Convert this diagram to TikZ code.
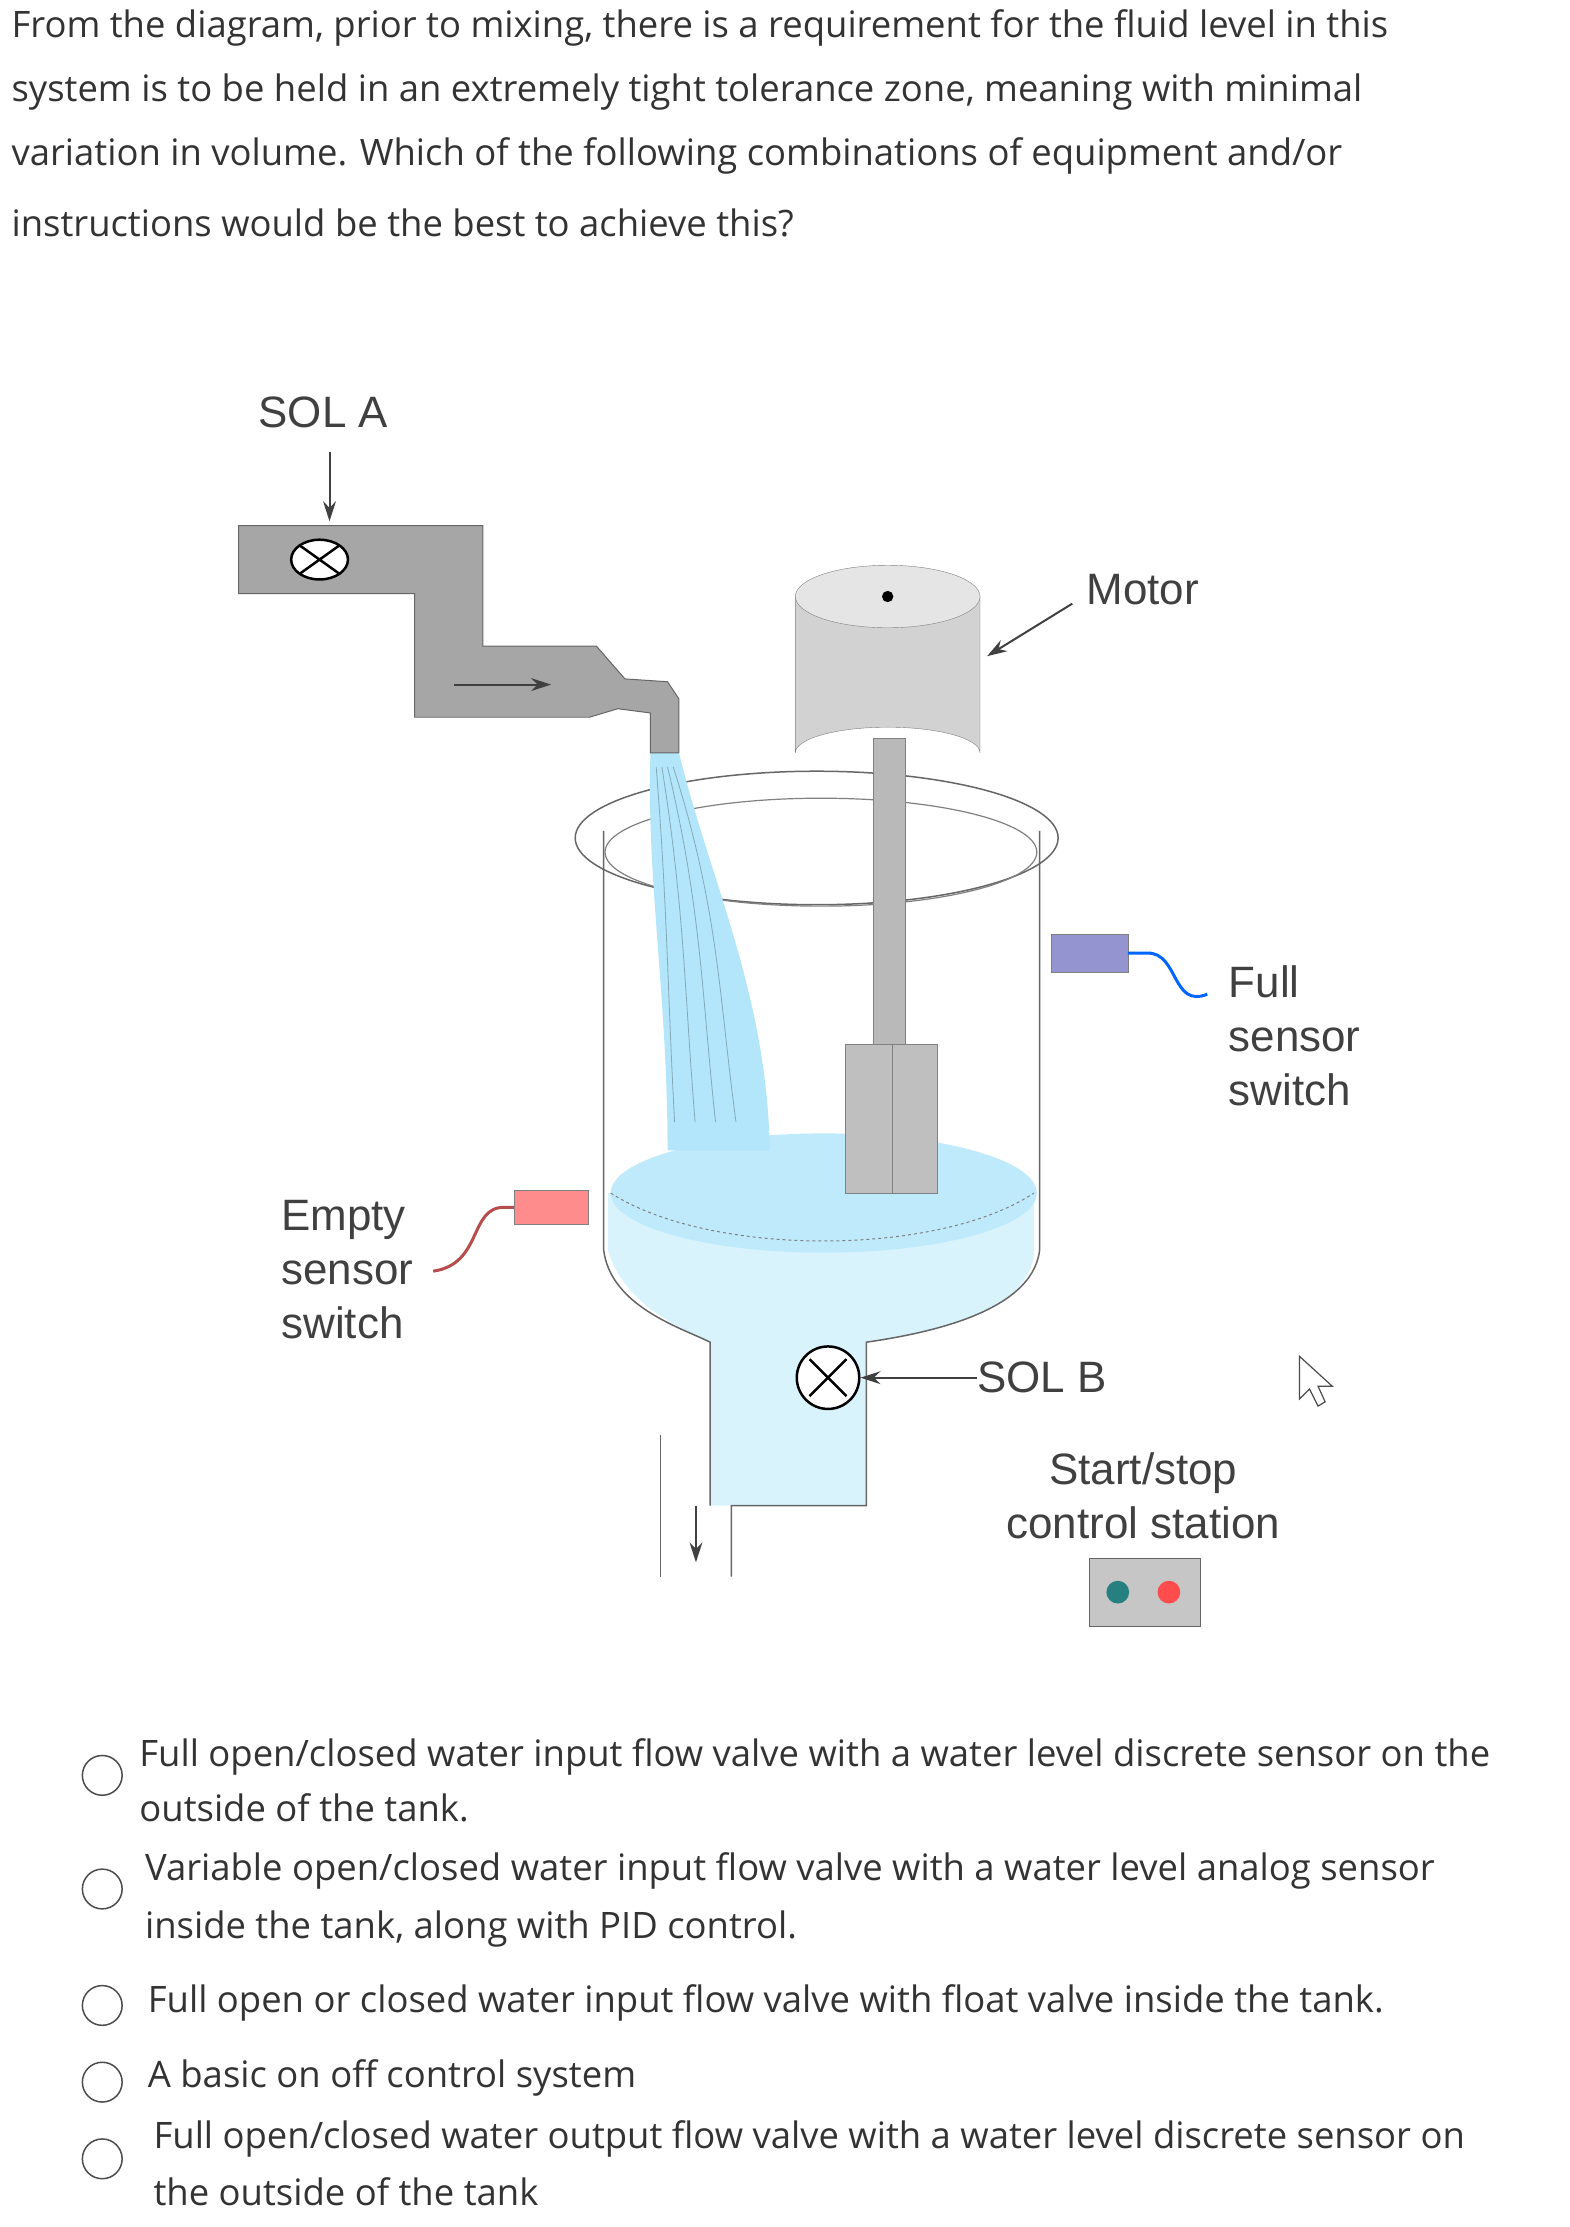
\documentclass[tikz,border=0pt]{standalone}
\usepackage{fontspec}
\usetikzlibrary{shapes.geometric,arrows.meta}
\setmainfont{Open Sans}
\setsansfont{Liberation Sans}
\begin{document}
\begin{tikzpicture}[x=0.05cm,y=-0.05cm,
  q/.style={anchor=west,inner sep=0,font=\fontsize{36.5}{42}\selectfont,text=black!80},
  lab/.style={anchor=west,inner sep=0,font=\sffamily\fontsize{44}{54}\selectfont,text=black!75},
  opt/.style={circle,draw=black!70,line width=1.5pt,minimum size=1.4cm,inner sep=0},
  valve/.style={ellipse,draw=black,line width=2.5pt,fill=white,minimum width=2cm,minimum height=1.4cm,inner sep=0},
  arr/.style={-{Stealth[length=0.7cm,width=0.45cm]},line width=2pt,black!75}]
\fill[white] (0,0) rectangle (1105,1568);
\useasboundingbox (0,0) rectangle (1105,1568);
% question
\node[q] (q1) at (8,20) {From the diagram, prior to mixing, there is a requirement for the fluid level in this};
\node[q] (q2) at (8,65) {system is to be held in an extremely tight tolerance zone, meaning with minimal};
\node[q] (q3) at (8,110) {variation in volume. Which of the following combinations of equipment and/or};
\node[q] (q4) at (8,157) {instructions would be the best to achieve this?};
% liquid in tank
\fill[cyan!15] (428,840) -- (428,880) .. controls (440,920) and (480,935) .. (500,945) -- (500,1060) -- (610,1060) -- (610,945) .. controls (680,935) and (728,915) .. (728,880) -- (728,840) -- cycle;
\fill[cyan!25] (580,840) ellipse [x radius=150, y radius=42];
% tank
\draw[black!60,line width=1.5pt] (425,585) -- (425,880) .. controls (430,920) and (480,935) .. (500,945) -- (500,1060);
\draw[black!60,line width=1.5pt] (732,585) -- (732,880) .. controls (728,915) and (680,935) .. (610,945) -- (610,1060) -- (515,1060) -- (515,1110);
\draw[black!60,line width=1.5pt] (465,1010) -- (465,1110);
\draw[black!60,line width=1.5pt] (575,590) ellipse [x radius=170, y radius=47];
\draw[black!50,line width=1.2pt] (578,600) ellipse [x radius=152, y radius=38];
\draw[black!50,dashed,line width=1pt] (430,840) .. controls (500,885) and (660,885) .. (728,840);
\draw[arr] (490,1060) -- (490,1100);
% stream
\fill[cyan!30] (458,530) -- (478,530) .. controls (500,620) and (540,700) .. (542,810) -- (470,810) .. controls (470,700) and (455,620) .. (458,530) -- cycle;
\foreach \d in {0,12,24,36} \draw[cyan!50!black!60,line width=0.8pt] (462+\d/3,540) .. controls (470+\d,640) and (470+\d,700) .. (475+\d*1.2,790);
% pipe SOL A
\fill[gray!70,draw=black!60,line width=1pt] (168,370) -- (340,370) -- (340,455) -- (420,455) -- (440,478) -- (470,480) -- (478,492) -- (478,530) -- (458,530) -- (458,502) -- (435,499) -- (415,505) -- (292,505) -- (292,418) -- (168,418) -- cycle;
\node[valve] (va) at (225,394) {};
\draw[black,line width=2.5pt] (211,384) -- (239,404) (211,404) -- (239,384);
\node[lab] (sola) at (182,290) {SOL A};
\coordinate (vatop) at (232,367);
\draw[arr] (232,318) -- (vatop);
\draw[arr] (320,482) -- (388,482);
% motor shaft
\fill[gray!55,draw=black!50] (615,520) rectangle (637,740);
% motor
\fill[gray!35,draw=black!50] (560,420) -- (560,530) arc[start angle=180,end angle=360,x radius=65,y radius=18] -- (690,420) -- cycle;
\fill[gray!20,draw=black!50] (625,420) ellipse [x radius=65, y radius=22];
\fill[black] (625,420) circle (4);
\fill[gray!50,draw=black!50] (595,735) -- (660,735) -- (660,840) -- (595,840) -- cycle;
\draw[black!50] (628,735) -- (628,840);
\node[lab] (motor) at (765,415) {Motor};
\coordinate (mt) at (695,462);
\draw[arr] (755,425) -- (mt);
% full sensor
\node[draw=black!50,fill=blue!40!gray!60,minimum width=2.7cm,minimum height=1.35cm,inner sep=0] (fs) at (767,671) {};
\draw[blue!60!cyan,line width=3pt] (fs.east) -- (808,671) .. controls (830,671) and (825,710) .. (850,700);
\node[lab,align=left,anchor=north west] (fst) at (865,680) {Full\\sensor\\switch};
% empty sensor
\node[draw=black!50,fill=red!45,minimum width=2.6cm,minimum height=1.2cm,inner sep=0] (es) at (388,850) {};
\draw[red!60!black!70,line width=3pt] (es.west) -- (355,850) .. controls (330,850) and (340,890) .. (305,895);
\node[lab,align=left,anchor=north west] (est) at (198,845) {Empty\\sensor\\switch};
% SOL B
\node[valve,minimum width=2.2cm,minimum height=2.2cm] (vb) at (583,970) {};
\draw[black,line width=2.5pt] (570,957) -- (596,983) (570,983) -- (596,957);
\node[lab] (solb) at (688,970) {SOL B};
\draw[arr] (solb.west) -- (vb.east);
% control station
\node[lab,align=center,anchor=center] (cs) at (805,1053) {Start/stop\\control station};
\node[draw=black!60,fill=gray!45,minimum width=3.9cm,minimum height=2.4cm,inner sep=0] (box) at (806,1121) {};
\fill[teal!70!gray] (787,1121) circle (8);
\fill[red!70] (823,1121) circle (8);
% cursor
\draw[black!70,line width=1.2pt,fill=white] (915,955) -- (915,985) -- (922,978) -- (928,990) -- (933,987) -- (928,976) -- (938,976) -- cycle;
% options
\foreach \y/\n in {1250/o1,1330/o2,1412/o3,1466/o4,1520/o5} \node[opt] (\n) at (72,\y) {};
\node[q] (a1) at (98,1237) {Full open/closed water input flow valve with a water level discrete sensor on the};
\node[q] (a1b) at (98,1273) {outside of the tank.};
\node[q] (a2) at (102,1317) {Variable open/closed water input flow valve with a water level analog sensor};
\node[q] (a2b) at (102,1358) {inside the tank, along with PID control.};
\node[q] (a3) at (104,1410) {Full open or closed water input flow valve with float valve inside the tank.};
\node[q] (a4) at (104,1463) {A basic on off control system};
\node[q] (a5) at (108,1506) {Full open/closed water output flow valve with a water level discrete sensor on};
\node[q] (a5b) at (108,1543) {the outside of the tank};
\end{tikzpicture}
\end{document}
